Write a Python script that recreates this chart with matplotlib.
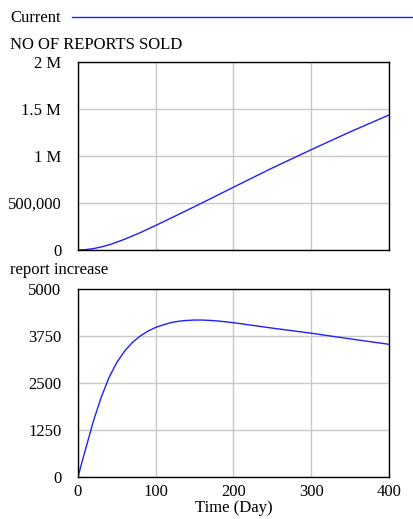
import matplotlib
matplotlib.use('Agg')
from matplotlib import pyplot as plt
from matplotlib.lines import Line2D

plt.rcParams['font.family'] = ['Liberation Serif', 'DejaVu Serif']
plt.rcParams['font.size'] = 12

# NO OF REPORTS SOLD (stock)
sold_days = [0, 10, 20, 30, 40, 50, 60, 80, 100, 125, 150, 175, 200, 250, 300, 350, 400]
sold = [0, 4000, 15000, 33000, 55000, 84000, 115000, 185000, 262000, 362000,
        463000, 566000, 670000, 875000, 1070000, 1260000, 1440000]

# report increase (flow)
inc_days = [0, 5, 10, 20, 30, 40, 50, 60, 70, 80, 90, 100, 110, 120, 130, 140,
            150, 160, 170, 180, 200, 250, 300, 350, 400]
increase = [0, 390, 760, 1500, 2130, 2650, 3050, 3350, 3580, 3750, 3880, 3980,
            4050, 4110, 4145, 4165, 4175, 4175, 4165, 4150, 4105, 3960, 3825,
            3675, 3530]

blue = '#1f1fff'
grid_c = '#c8c8c8'

fig = plt.figure(figsize=(4.14, 5.19), dpi=100)

# legend line at the top
fig.text(10 / 414, 1 - 18 / 519, 'Current', va='center', ha='left')
fig.add_artist(Line2D([72 / 414, 1.0], [1 - 17 / 519, 1 - 17 / 519],
                      color=blue, lw=1, transform=fig.transFigure))


def style(ax, ticks, labels):
    ax.set_xlim(0, 400)
    ax.set_xticks([0, 100, 200, 300, 400])
    ax.set_yticks(ticks)
    ax.set_yticklabels(labels)
    ax.grid(True, color=grid_c, lw=1)
    ax.set_axisbelow(True)
    ax.tick_params(length=0, pad=12)
    for s in ax.spines.values():
        s.set_linewidth(1)
        s.set_color('black')


ax1 = fig.add_axes([0.1884, 0.5183, 0.7512, 0.3613])
ax1.plot(sold_days, sold, color=blue, lw=1)
ax1.set_ylim(0, 2000000)
style(ax1, [0, 500000, 1000000, 1500000, 2000000],
      ['0', '500,000', '1 M', '1.5 M', '2 M'])
ax1.set_xticklabels([])
fig.text(10 / 414, 1 - 45 / 519, 'NO OF REPORTS SOLD', va='center', ha='left')

ax2 = fig.add_axes([0.1884, 0.0809, 0.7512, 0.3622])
ax2.plot(inc_days, increase, color=blue, lw=1)
ax2.set_ylim(0, 5000)
style(ax2, [0, 1250, 2500, 3750, 5000], ['0', '1250', '2500', '3750', '5000'])
ax2.tick_params(axis='x', pad=5)
ax2.set_xlabel('Time (Day)', labelpad=0)
fig.text(10 / 414, 1 - 270 / 519, 'report increase', va='center', ha='left')

fig.savefig('out.png', dpi=100)
